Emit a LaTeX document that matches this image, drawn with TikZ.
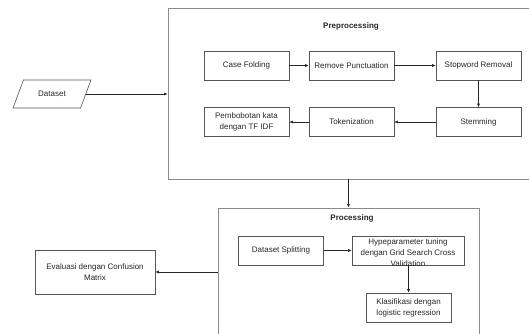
\documentclass[tikz,border=0pt]{standalone}
\usepackage{fontspec}
\setmainfont{Liberation Sans}
\usetikzlibrary{shapes.geometric,arrows.meta}

\definecolor{boxline}{HTML}{555555}
\definecolor{outline}{HTML}{8A8A8A}
\definecolor{ink}{HTML}{262626}

\begin{document}
\begin{tikzpicture}[x=1pt, y=-1pt,
		every node/.style={font=\fontsize{8}{11}\selectfont, text=ink},
		stepbox/.style={draw=boxline, line width=0.6pt, minimum width=85pt, minimum height=29pt, inner sep=1pt, align=center},
		group/.style={draw=outline, line width=0.8pt, inner sep=0pt},
		flow/.style={draw=ink, line width=0.6pt, -{Latex[length=3.5pt, width=3pt]}}]
		\useasboundingbox (0, 0) rectangle (529, 333);
		\clip (0, 0) rectangle (529, 333);
		
		\node[group, minimum width=372pt, minimum height=171pt] (prep) at (354, 93.5) {};
		\node[font=\fontsize{8}{11}\selectfont\bfseries] (preptitle) at (351, 26) {Preprocessing};
		
		\node[stepbox] (casefold) at (246.5, 65.5) {Case Folding};
		\node[stepbox] (punct) at (351.5, 65.5) {Remove Punctuation};
		\node[stepbox] (stopword) at (478.5, 65.5) {Stopword Removal};
		\node[stepbox] (stem) at (478.5, 122) {Stemming};
		\node[stepbox] (token) at (351.5, 122) {Tokenization};
		\node[stepbox] (tfidf) at (246.5, 122) {Pembobotan kata\\dengan TF IDF};
		
		\node[trapezium, trapezium left angle=63, trapezium right angle=117, trapezium stretches=true,
			draw=boxline, line width=0.6pt, minimum width=78pt, minimum height=28pt] (dataset) at (52, 94) {Dataset};
		
		\node[group, minimum width=261pt, minimum height=140pt] (proc) at (348.5, 278) {};
		\node[font=\fontsize{8}{11}\selectfont\bfseries] (proctitle) at (352, 218) {Processing};
		
		\node[stepbox] (split) at (281, 250.5) {Dataset Splitting};
		\node[stepbox, minimum width=112pt] (hype) at (408, 250.5) {};
		\node[align=center, inner sep=0pt] (hypetext) at (408, 253) {Hypeparameter tuning\\dengan Grid Search Cross\\Validation};
		\node[stepbox] (klas) at (408.5, 307.5) {Klasifikasi dengan\\logistic regression};
		\node[stepbox, minimum width=120pt, minimum height=44pt] (eval) at (95, 272) {Evaluasi dengan Confusion\\Matrix};
		
		\draw[flow] (dataset.east) -- (dataset.east -| prep.west);
		\draw[flow] (casefold) -- (punct);
		\draw[flow] (punct) -- (stopword);
		\draw[flow] (stopword) -- (stem);
		\draw[flow] (stem) -- (token);
		\draw[flow] (token) -- (tfidf);
		\draw[flow] (prep.south -| proc.north) -- (proc.north);
		\draw[flow] (split) -- (hype);
		\draw[flow] (hype.south -| klas.north) -- (klas.north);
		\draw[flow] (proc.west |- eval.east) -- (eval.east);
	\end{tikzpicture}
\end{document}
